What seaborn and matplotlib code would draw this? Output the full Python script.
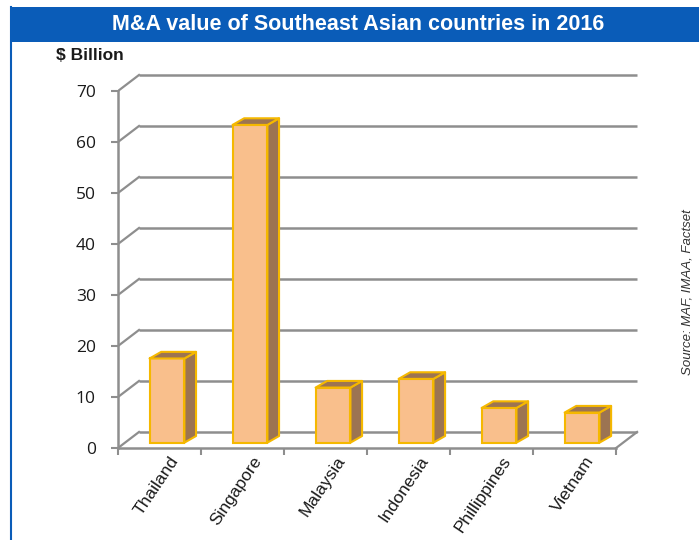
import numpy as np
import pandas as pd
import matplotlib
matplotlib.use("Agg")
import matplotlib.pyplot as plt
import matplotlib.transforms as mtransforms
from matplotlib.patches import Polygon, Rectangle
from matplotlib.lines import Line2D
import seaborn as sns

# ========== data ==========
countries = ["Thailand", "Singapore", "Malaysia", "Indonesia", "Phillippines", "Vietnam"]
values = [16.5, 62.3, 10.8, 12.5, 6.8, 5.9]
y_ticks = [0, 10, 20, 30, 40, 50, 60, 70]
title = "M&A value of Southeast Asian countries in 2016"
unit_label = "$ Billion"
source = "Source: MAF, IMAA, Factset"

df = pd.DataFrame({"country": countries, "value": values})

# ========== style ==========
W, H, DPI = 699, 540, 100
BLUE = "#0a5cb8"
GRID = "#8e8e8e"
FACE = "#f9bf8c"
EDGE = "#f5b800"
SIDE = "#9c7452"
SANS = ["Liberation Sans", "DejaVu Sans"]

BACK = (0.253, 3.14)      # back wall offset (categories, $B)
BAR_OFF = (0.09, 1.05)    # bar front faces sit a bit inside the floor
BAR_DEPTH = (0.14, 1.3)   # side / top face depth

n = len(countries)

fig = plt.figure(figsize=(W / DPI, H / DPI), dpi=DPI)
fig.patch.set_facecolor("white")

# ========== banner + frame ==========
fig.patches.append(Rectangle((11 / W, 1 - 42 / H), 1 - 11 / W, 35 / H,
                             transform=fig.transFigure, facecolor=BLUE,
                             edgecolor="none"))
fig.add_artist(Line2D([11 / W, 11 / W], [0, 1 - 7 / H], transform=fig.transFigure,
                      color=BLUE, lw=1.5))
fig.text(358 / W, 1 - 25 / H, title, color="white", fontsize=15.5,
         fontweight="bold", family=SANS, ha="center", va="center")
fig.text(56 / W, 1 - 55 / H, unit_label, color="#1a1a1a", fontsize=12.5,
         fontweight="bold", family=SANS, ha="left", va="center")
fig.text(688 / W, 1 - 292 / H, source, color="#333333", fontsize=9.5,
         style="italic", family=SANS, rotation=90, ha="center", va="center")

# ========== axes ==========
ax = fig.add_axes([118 / W, 92 / H, 523 / W, 377.4 / H])
ax.set_facecolor("none")

sns.barplot(data=df, x="country", y="value", ax=ax, width=0.42, color=FACE,
            saturation=1, edgecolor=EDGE, linewidth=1.5, errorbar=None, zorder=3)

# back wall grid + left wall diagonals
for t in y_ticks:
    ax.plot([-0.5 + BACK[0], n - 0.5 + BACK[0]], [t + BACK[1]] * 2,
            color=GRID, lw=1.8, zorder=1, solid_capstyle="butt")
    ax.plot([-0.5, -0.5 + BACK[0]], [t, t + BACK[1]], color=GRID, lw=1.6, zorder=1)
ax.plot([n - 0.5, n - 0.5 + BACK[0]], [0, BACK[1]], color=GRID, lw=1.6, zorder=1)

# 3D look: shift the front faces and add side + top faces
shift = mtransforms.Affine2D().translate(*BAR_OFF) + ax.transData
dx, dy = BAR_DEPTH
for p in list(ax.patches):
    x0, y0, w, h = p.get_x(), p.get_y(), p.get_width(), p.get_height()
    p.set_transform(shift)
    side = [(x0 + w, y0), (x0 + w + dx, y0 + dy), (x0 + w + dx, y0 + h + dy), (x0 + w, y0 + h)]
    top = [(x0, y0 + h), (x0 + dx, y0 + h + dy), (x0 + w + dx, y0 + h + dy), (x0 + w, y0 + h)]
    for pts in (side, top):
        ax.add_patch(Polygon(pts, closed=True, facecolor=SIDE, edgecolor=EDGE,
                             lw=1.5, transform=shift, zorder=3, joinstyle="round"))

ax.set_xlim(-0.5, n - 0.2)
ax.set_ylim(0, 74)

for s in ["top", "right"]:
    ax.spines[s].set_visible(False)
ax.spines["left"].set_bounds(0, y_ticks[-1])
ax.spines["bottom"].set_bounds(-0.5, n - 0.5)
for s in ["left", "bottom"]:
    ax.spines[s].set_color(GRID)
    ax.spines[s].set_linewidth(1.8)

ax.set_yticks(y_ticks)
ax.set_yticklabels([str(t) for t in y_ticks], family=["Open Sans", "DejaVu Sans"],
                   fontsize=12.5, color="#1a1a1a")
ax.tick_params(axis="y", length=5, width=1.5, color=GRID, pad=11)

ax.set_xticks(range(n))
ax.set_xticks(np.arange(-0.5, n, 1), minor=True)
ax.set_xticklabels(countries, rotation=56, ha="right", va="center",
                   rotation_mode="anchor", family=SANS, fontsize=12.5,
                   color="#1a1a1a")
ax.tick_params(axis="x", which="major", length=0, pad=7)
ax.tick_params(axis="x", which="minor", length=5, width=1.5, color=GRID)
offset = mtransforms.ScaledTranslation(0.16, 0, fig.dpi_scale_trans)
for lbl in ax.get_xticklabels():
    lbl.set_transform(lbl.get_transform() + offset)

ax.set_xlabel("")
ax.set_ylabel("")

fig.savefig("out.png", dpi=DPI)
